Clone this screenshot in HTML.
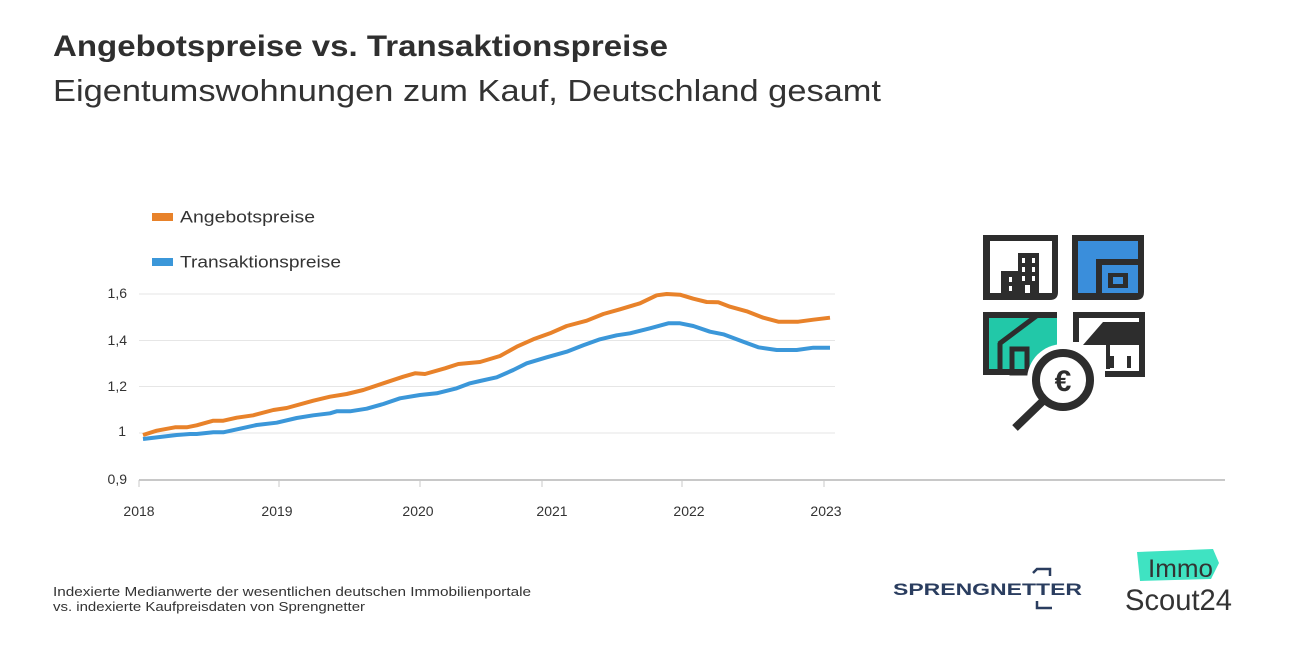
<!DOCTYPE html>
<html>
<head>
<meta charset="utf-8">
<style>
html,body{margin:0;padding:0;background:#fff;}
svg{display:block;}
text{font-family:"Liberation Sans",sans-serif;}
</style>
</head>
<body>
<svg width="1316" height="658" viewBox="0 0 1316 658" xmlns="http://www.w3.org/2000/svg">
<rect x="0" y="0" width="1316" height="658" fill="#ffffff"/>

<!-- Titles -->
<text x="53" y="56" font-size="30" font-weight="bold" fill="#2f2f2f" textLength="615" lengthAdjust="spacingAndGlyphs">Angebotspreise vs. Transaktionspreise</text>
<text x="53" y="101" font-size="31" fill="#333333" textLength="828" lengthAdjust="spacingAndGlyphs">Eigentumswohnungen zum Kauf, Deutschland gesamt</text>

<!-- Legend -->
<rect x="152" y="213" width="21" height="8" fill="#e8822a"/>
<text x="180" y="222.5" font-size="17" fill="#333" textLength="135" lengthAdjust="spacingAndGlyphs">Angebotspreise</text>
<rect x="152" y="258" width="21" height="8" fill="#3b97d9"/>
<text x="180" y="267.5" font-size="17" fill="#333" textLength="161" lengthAdjust="spacingAndGlyphs">Transaktionspreise</text>

<!-- Gridlines -->
<g stroke="#e6e6e6" stroke-width="1">
<line x1="139" y1="294" x2="835" y2="294"/>
<line x1="139" y1="340.5" x2="835" y2="340.5"/>
<line x1="139" y1="386.5" x2="835" y2="386.5"/>
<line x1="139" y1="433" x2="835" y2="433"/>
</g>
<!-- Axis -->
<line x1="139" y1="480" x2="1225" y2="480" stroke="#a6a6a6" stroke-width="1.2"/>
<g stroke="#c8c8c8" stroke-width="1">
<line x1="139" y1="480" x2="139" y2="487"/>
<line x1="279" y1="480" x2="279" y2="487"/>
<line x1="420" y1="480" x2="420" y2="487"/>
<line x1="542" y1="480" x2="542" y2="487"/>
<line x1="682" y1="480" x2="682" y2="487"/>
<line x1="824" y1="480" x2="824" y2="487"/>
</g>

<!-- Y labels -->
<g font-size="14" fill="#333" text-anchor="end">
<text x="127" y="298">1,6</text>
<text x="127" y="345">1,4</text>
<text x="127" y="391">1,2</text>
<text x="126" y="436">1</text>
<text x="127" y="484">0,9</text>
</g>
<!-- X labels -->
<g font-size="14" fill="#333" text-anchor="middle">
<text x="139" y="516">2018</text>
<text x="277" y="516">2019</text>
<text x="418" y="516">2020</text>
<text x="552" y="516">2021</text>
<text x="689" y="516">2022</text>
<text x="826" y="516">2023</text>
</g>

<!-- Series -->
<polyline fill="none" stroke="#e8822a" stroke-width="4" stroke-linejoin="round" stroke-linecap="butt"
points="143,435 156.7,430.7 175,427.3 186.7,427.3 196.7,425.3 213.3,420.7 223.3,420.7 236.7,417.7 253.3,415.3 273.3,410 286.7,408 313.3,400.7 330,396.7 346.7,394 363.3,390 383.3,383.3 403.3,376.7 415,373.3 425,374 445,368.3 458.3,364 480,362 500,356 516.7,346.7 533.3,339.3 550,333.3 566.7,326 586.7,320.7 603.3,314 620,309.3 640,303.3 656.7,295.3 666.7,294 680,294.7 693.3,298.7 706.7,302 718.3,302.3 730,306.7 746.7,311.3 763.3,317.7 778.3,321.7 798.3,321.7 813.3,319.7 830,317.7"/>
<polyline fill="none" stroke="#3b97d9" stroke-width="4" stroke-linejoin="round" stroke-linecap="butt"
points="143,439 176.7,435 190,434 196.7,434 213.3,432.3 223.3,432.3 240,428.7 256.7,425 276.7,422.7 296.7,418 313.3,415.3 330,413.3 336.7,411.3 350,411.3 366.7,408.7 383.3,404 400,398.3 420,395 436.7,393.3 456.7,388.3 470,383.3 480,381 496.7,377.3 513.3,370 526.7,363.3 546.7,357.3 566.7,351.7 583.3,345.3 600,339.3 616.7,335.3 630,333.3 650,328.3 668.3,323.3 680,323.3 693.3,326 710,331.7 723.3,334.3 743.3,341.7 758.3,347.3 776.7,350 796.7,350 813.3,347.7 830,347.7"/>

<!-- Icon -->
<g>
  <!-- Tile 1 -->
  <path d="M983,235 H1058 V292 Q1058,300 1050,300 H983 Z" fill="#2d2d2d"/>
  <rect x="990" y="241" width="62" height="52" fill="#fff"/>
  <rect x="1018" y="253" width="21" height="40" fill="#2d2d2d"/>
  <rect x="1001" y="271" width="18" height="22" fill="#2d2d2d"/>
  <g fill="#fff">
    <rect x="1022" y="258" width="3" height="5"/>
    <rect x="1032" y="258" width="3" height="5"/>
    <rect x="1022" y="267" width="3" height="5"/>
    <rect x="1032" y="267" width="3" height="5"/>
    <rect x="1022" y="276" width="3" height="5"/>
    <rect x="1032" y="276" width="3" height="5"/>
    <rect x="1009" y="277" width="3" height="5"/>
    <rect x="1009" y="286" width="3" height="5"/>
    <rect x="1025" y="285" width="5" height="8"/>
  </g>
  <!-- Tile 2 -->
  <path d="M1072,235 H1144 V292 Q1144,300 1136,300 H1072 Z" fill="#2d2d2d"/>
  <rect x="1078" y="241" width="60" height="52" fill="#3a8edb"/>
  <rect x="1096" y="259" width="44" height="36" fill="#2d2d2d"/>
  <rect x="1102" y="265" width="36" height="28" fill="#3a8edb"/>
  <rect x="1108" y="273" width="20" height="15" fill="#2d2d2d"/>
  <rect x="1113" y="277" width="10" height="7" fill="#3a8edb"/>
  <!-- Tile 3 -->
  <rect x="983" y="312" width="74" height="63" fill="#22c8a8"/>
  <rect x="983" y="312" width="74" height="6" fill="#2d2d2d"/>
  <rect x="983" y="312" width="6" height="63" fill="#2d2d2d"/>
  <rect x="983" y="369" width="50" height="6" fill="#2d2d2d"/>
  <line x1="1039" y1="314" x2="999" y2="344" stroke="#2d2d2d" stroke-width="5"/>
  <line x1="1000" y1="343" x2="1000" y2="372" stroke="#2d2d2d" stroke-width="5"/>
  <rect x="1012" y="349" width="15" height="24" fill="none" stroke="#2d2d2d" stroke-width="5"/>
  <!-- Tile 4 -->
  <rect x="1073" y="312" width="72" height="65" fill="#fff"/>
  <rect x="1073" y="312" width="72" height="6" fill="#2d2d2d"/>
  <rect x="1139" y="312" width="6" height="65" fill="#2d2d2d"/>
  <rect x="1073" y="312" width="6" height="30" fill="#2d2d2d"/>
  <rect x="1105" y="371" width="40" height="6" fill="#2d2d2d"/>
  <polygon points="1083,345 1103,322 1142,322 1142,345" fill="#2d2d2d"/>
  <rect x="1106" y="344" width="4" height="25" fill="#2d2d2d"/>
  <rect x="1110" y="356" width="4" height="12" fill="#2d2d2d"/>
  <rect x="1127" y="356" width="4" height="12" fill="#2d2d2d"/>
  <!-- Magnifier -->
  <circle cx="1063" cy="380" r="36" fill="#fff"/>
  <line x1="1044" y1="400" x2="1015" y2="428" stroke="#2d2d2d" stroke-width="8"/>
  <circle cx="1063" cy="380" r="27" fill="#fff" stroke="#2d2d2d" stroke-width="8"/>
  <text x="1063" y="391" font-size="30" font-weight="bold" fill="#2d2d2d" text-anchor="middle">€</text>
</g>

<!-- Footnote -->
<text x="53" y="596" font-size="12.5" fill="#333" textLength="478" lengthAdjust="spacingAndGlyphs">Indexierte Medianwerte der wesentlichen deutschen Immobilienportale</text>
<text x="53" y="611" font-size="12.5" fill="#333" textLength="312" lengthAdjust="spacingAndGlyphs">vs. indexierte Kaufpreisdaten von Sprengnetter</text>

<!-- Sprengnetter logo -->
<text x="893" y="595" font-size="17" font-weight="bold" fill="#2a3d5f" textLength="189" lengthAdjust="spacingAndGlyphs">SPRENGNETTER</text>
<path d="M1033,573 L1037,569 H1050 V576" fill="none" stroke="#2a3d5f" stroke-width="2.5"/>
<path d="M1037,601 V608 H1052" fill="none" stroke="#2a3d5f" stroke-width="2.5"/>

<!-- ImmoScout24 logo -->
<polygon points="1137,552 1213,549 1219,563 1211,579 1140,581" fill="#3fe3c2"/>
<text x="1148" y="577" font-size="25" fill="#333" textLength="65" lengthAdjust="spacingAndGlyphs">Immo</text>
<text x="1125" y="610" font-size="30" fill="#333" textLength="107" lengthAdjust="spacingAndGlyphs">Scout24</text>
</svg>
</body>
</html>
